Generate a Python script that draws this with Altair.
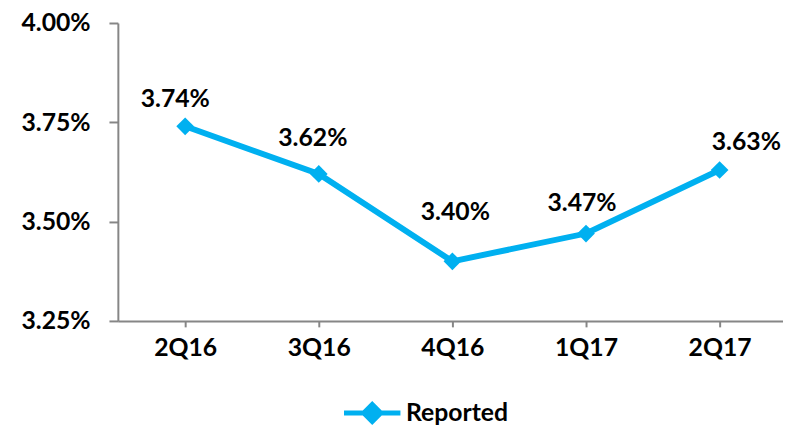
import altair as alt
import pandas as pd

quarters = ["2Q16", "3Q16", "4Q16", "1Q17", "2Q17"]
rates = [3.74, 3.62, 3.40, 3.47, 3.63]
series = ["Reported"] * 5
y_ticks = [3.25, 3.50, 3.75, 4.00]

df = pd.DataFrame({"quarter": quarters, "rate": rates, "series": series})

FONT = "Lato"
FS = 25
BLUE = "#00B0F0"
GRAY = "#868686"

# label placement offsets (dx, dy) in pixels, per category
LABEL_OFFSETS = {
    "2Q16": (-10, -27),
    "3Q16": (-6, -36),
    "4Q16": (3, -50),
    "1Q17": (-4, -31),
    "2Q17": (27, -28),
}

x_enc = alt.X(
    "quarter:N", sort=quarters, title=None,
    scale=alt.Scale(type="point", padding=0.489, align=0.515),
    axis=alt.Axis(labelAngle=0, domainColor=GRAY, domainWidth=2, tickColor=GRAY,
                  tickWidth=2, tickSize=6, labelPadding=9, labelFont=FONT,
                  labelFontSize=FS, labelFontWeight="bold", labelColor="black",
                  grid=False),
)
y_enc = alt.Y(
    "rate:Q", title=None,
    scale=alt.Scale(domain=[3.25, 4.0], nice=False, zero=False),
    axis=alt.Axis(values=y_ticks, labelExpr="format(datum.value, '.2f') + '%'",
                  domainColor=GRAY, domainWidth=2, tickColor=GRAY, tickWidth=2,
                  tickSize=9, labelPadding=19, labelFont=FONT, labelFontSize=FS,
                  labelFontWeight="bold", labelColor="black", grid=False),
)

base = alt.Chart(df).encode(x=x_enc, y=y_enc)

line = base.mark_line(strokeWidth=6).encode(
    color=alt.Color(
        "series:N",
        scale=alt.Scale(range=[BLUE]),
        legend=alt.Legend(
            title=None, orient="none", legendX=226, legendY=363, padding=0,
            symbolType="M-1,0H1M0,-0.3L0.3,0L0,0.3L-0.3,0Z",
            symbolSize=3249, symbolStrokeWidth=5, symbolStrokeColor=BLUE,
            symbolFillColor=BLUE, labelFont=FONT, labelFontSize=FS,
            labelFontWeight="bold", labelColor="black", labelOffset=3,
        ),
    )
)

points = base.mark_point(shape="diamond", filled=True, size=320, opacity=1, color=BLUE)

label_layers = []
for q in quarters:
    dx, dy = LABEL_OFFSETS[q]
    label_layers.append(
        base.transform_filter(alt.datum.quarter == q)
        .transform_calculate(label="format(datum.rate, '.2f') + '%'")
        .mark_text(dx=dx, dy=dy, font=FONT, fontSize=FS, fontWeight="bold", color="black")
        .encode(text="label:N")
    )

chart = alt.layer(line, points, *label_layers).properties(
    width=672, height=301,
    autosize=alt.AutoSizeParams(type="none"),
    padding={"left": 111, "top": 13, "right": 0, "bottom": 104},
).configure_view(stroke=None)

chart.save("out.html", embed_options={"renderer": "svg", "actions": False})
